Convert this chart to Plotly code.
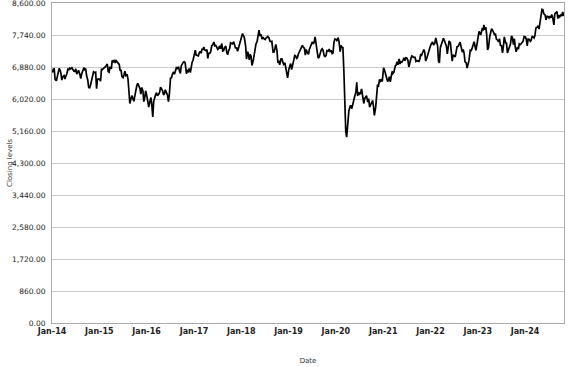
import plotly.graph_objects as go

# Approximate weekly closing levels (4 readings per month)
close_2014 = [6730, 6820, 6830, 6550,  6510, 6600, 6680, 6840,  6800, 6710, 6530, 6620,
              6650, 6560, 6630, 6690,  6820, 6810, 6850, 6830,  6860, 6810, 6770, 6760,
              6830, 6690, 6750, 6790,  6680, 6570, 6690, 6780,  6860, 6810, 6840, 6650,
              6530, 6340, 6310, 6390,  6550, 6710, 6750, 6730,  6740, 6300, 6550, 6560]
close_2015 = [6550, 6500, 6830, 6810,  6860, 6870, 6890, 6940,  6960, 6760, 6740, 6890,
              6830, 7060, 7000, 7070,  6990, 7050, 7010, 6980,  6950, 6780, 6800, 6620,
              6590, 6670, 6770, 6650,  6680, 6550, 6190, 5900,  6050, 6110, 6020, 5960,
              6130, 6340, 6380, 6440,  6350, 6300, 6150, 6330,  6240, 5950, 6050, 6240]
close_2016 = [6090, 5910, 5800, 5920,  6060, 5850, 5540, 5950,  6100, 6140, 6190, 6110,
              6150, 6200, 6340, 6310,  6240, 6130, 6160, 6270,  6190, 6120, 5950, 6140,
              6580, 6590, 6680, 6730,  6690, 6790, 6860, 6840,  6890, 6770, 6710, 6910,
              7000, 7010, 7020, 6990,  6700, 6780, 6760, 6840,  6730, 6950, 7010, 7060]
close_2017 = [7210, 7330, 7200, 7190,  7180, 7260, 7300, 7250,  7370, 7340, 7420, 7340,
              7320, 7350, 7110, 7250,  7250, 7300, 7450, 7470,  7550, 7450, 7460, 7420,
              7350, 7380, 7450, 7370,  7510, 7310, 7320, 7400,  7440, 7280, 7210, 7310,
              7380, 7530, 7520, 7500,  7560, 7430, 7380, 7410,  7300, 7390, 7490, 7620]
close_2018 = [7690, 7780, 7730, 7670,  7440, 7090, 7290, 7240,  7070, 7220, 7160, 6920,
              7060, 7260, 7370, 7500,  7570, 7720, 7870, 7730,  7740, 7630, 7680, 7640,
              7620, 7660, 7680, 7700,  7660, 7570, 7560, 7570,  7280, 7280, 7370, 7490,
              7320, 6990, 7050, 6940,  7100, 7100, 7010, 6950,  6990, 6850, 6730, 6590]
close_2019 = [6830, 6920, 6970, 6810,  7020, 7070, 7190, 7180,  7110, 7130, 7230, 7280,
              7390, 7420, 7460, 7420,  7380, 7200, 7350, 7280,  7220, 7350, 7410, 7430,
              7560, 7500, 7540, 7690,  7400, 7250, 7120, 7140,  7280, 7340, 7370, 7330,
              7180, 7160, 7190, 7320,  7310, 7360, 7300, 7330,  7240, 7260, 7550, 7630]
close_2020 = [7620, 7580, 7670, 7590,  7290, 7460, 7410, 7400,  6720, 5900, 5150, 4994,
              5480, 5700, 5790, 5850,  5760, 5900, 6030, 6080,  6200, 6470, 6100, 6200,
              6150, 6180, 6290, 6120,  5900, 6030, 6090, 6110,  5940, 6030, 5800, 5860,
              5900, 5980, 5830, 5580,  5800, 6190, 6380, 6370,  6550, 6500, 6530, 6490]
close_2021 = [6860, 6800, 6710, 6640,  6490, 6530, 6620, 6480,  6680, 6760, 6710, 6740,
              6910, 6930, 7020, 6940,  7100, 6960, 7020, 7010,  7070, 7130, 7050, 7130,
              7120, 7060, 6880, 7030,  7120, 7180, 7150, 7140,  7140, 7030, 7050, 7030,
              7030, 7090, 7230, 7200,  7280, 7350, 7270, 7040,  7120, 7230, 7270, 7370]
close_2022 = [7480, 7520, 7550, 7470,  7520, 7660, 7520, 7450,  7040, 6990, 7400, 7460,
              7550, 7650, 7600, 7520,  7440, 7230, 7420, 7580,  7530, 7320, 7040, 7210,
              7170, 7150, 7280, 7420,  7440, 7500, 7550, 7430,  7280, 7350, 7240, 7020,
              6990, 6850, 6970, 7050,  7330, 7320, 7380, 7490,  7560, 7440, 7330, 7470]
close_2023 = [7700, 7840, 7770, 7760,  7900, 7880, 8010, 7880,  7950, 7750, 7340, 7400,
              7700, 7840, 7910, 7870,  7780, 7750, 7760, 7630,  7600, 7560, 7640, 7460,
              7450, 7260, 7430, 7690,  7530, 7520, 7260, 7340,  7460, 7500, 7710, 7680,
              7480, 7640, 7400, 7290,  7420, 7360, 7500, 7480,  7510, 7550, 7580, 7700]
close_2024 = [7690, 7620, 7450, 7630,  7620, 7570, 7600, 7710,  7680, 7660, 7730, 7930,
              7950, 7990, 7900, 8080,  8170, 8430, 8420, 8310,  8280, 8150, 8240, 8240,
              8200, 8250, 8200, 8290,  8170, 8010, 8310, 8330,  8370, 8180, 8270, 8230,
              8280, 8250, 8360, 8250]

years = [2014, 2015, 2016, 2017, 2018, 2019, 2020, 2021, 2022, 2023, 2024]
yearly = [close_2014, close_2015, close_2016, close_2017, close_2018, close_2019,
          close_2020, close_2021, close_2022, close_2023, close_2024]
reading_days = [4, 11, 18, 25]

y_ticks = [0, 860, 1720, 2580, 3440, 4300, 5160, 6020, 6880, 7740, 8600]

dates, closing_levels = [], []
for yr, vals in zip(years, yearly):
    for i, v in enumerate(vals):
        month = i // 4 + 1
        day = reading_days[i % 4]
        dates.append(f"{yr}-{month:02d}-{day:02d}")
        closing_levels.append(v)

fig = go.Figure()
fig.add_trace(go.Scatter(
    x=dates, y=closing_levels, mode="lines",
    line=dict(color="black", width=1.7),
    showlegend=False,
))

fig.update_layout(
    width=577, height=367,
    margin=dict(l=52, r=13, t=3, b=44),
    paper_bgcolor="white", plot_bgcolor="white",
    font=dict(family="DejaVu Sans", color="#333333"),
    xaxis=dict(
        range=["2014-01-01", "2024-10-28"],
        tickformat="%b-%y", dtick="M12", tick0="2014-01-01",
        showgrid=False, showline=True, linecolor="#aaaaaa", linewidth=1, mirror=True,
        ticks="", tickfont=dict(family="DejaVu Sans", size=8, color="#222222", weight="bold"),
        automargin=False,
        title=dict(text="Date", font=dict(size=7, color="#333333"), standoff=23),
    ),
    yaxis=dict(
        range=[0, 8600], tickvals=y_ticks, tickformat=",.2f",
        showgrid=True, gridcolor="#c8c8c8", gridwidth=1,
        showline=True, linecolor="#aaaaaa", linewidth=1, mirror=True,
        zeroline=False, ticks="", tickfont=dict(family="DejaVu Sans", size=7.5, color="#222222"),
        ticklabeloverflow="allow", ticklabelstandoff=4, automargin=False,
    ),
    annotations=[dict(
        text="Closing levels", textangle=-90, showarrow=False,
        xref="paper", yref="paper", x=0, y=0.5, xanchor="center", yanchor="middle",
        xshift=-42, font=dict(size=7, color="#333333"),
    )],
)

fig.write_html("out.html", post_script="document.body.style.margin='0';",
               config={"displayModeBar": False})
